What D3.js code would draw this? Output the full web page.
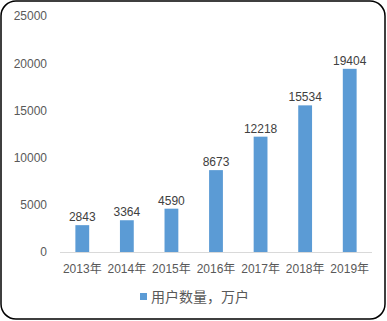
<!DOCTYPE html>
<html><head><meta charset="utf-8">
<script src="https://cdn.jsdelivr.net/npm/d3@7"></script>
<style>body{margin:0;background:#fff}svg{display:block}text{font-family:"Liberation Sans","Noto Sans CJK SC",sans-serif}</style>
</head><body>
<script>
const categories = ["2013年","2014年","2015年","2016年","2017年","2018年","2019年"];
const values = [2843,3364,4590,8673,12218,15534,19404];
const yTicks = [0,5000,10000,15000,20000,25000];
const seriesName = "用户数量，万户";

const W=387,H=321;
const svg=d3.select("body").append("svg").attr("width",W).attr("height",H);
svg.append("rect").attr("x",1).attr("y",1).attr("width",W-3).attr("height",H-3)
  .attr("rx",15).attr("ry",15).attr("fill","#fff").attr("stroke","#000").attr("stroke-width",1.5);

const m={l:60,r:372,t:16,b:252};
const x=d3.scaleBand().domain(categories).range([m.l,m.r]).paddingInner(0.69).paddingOuter(0.345);
const y=d3.scaleLinear().domain([0,25000]).range([m.b,m.t]);

const ya=svg.append("g").attr("transform",`translate(${m.l},0)`)
  .call(d3.axisLeft(y).tickValues(yTicks).tickSize(0).tickPadding(13).tickFormat(d3.format("d")));
ya.select(".domain").remove();
ya.selectAll("text").attr("fill","#595959").attr("font-size",12);

svg.selectAll("rect.bar").data(values).join("rect").attr("class","bar")
  .attr("x",(d,i)=>x(categories[i])).attr("width",x.bandwidth())
  .attr("y",d=>y(d)).attr("height",d=>y(0)-y(d)).attr("fill","#5B9BD5");

svg.append("line").attr("x1",m.l).attr("x2",m.r).attr("y1",m.b+0.5).attr("y2",m.b+0.5)
  .attr("stroke","#D9D9D9").attr("stroke-width",1);

svg.selectAll("text.lab").data(values).join("text").attr("class","lab")
  .attr("x",(d,i)=>x(categories[i])+x.bandwidth()/2).attr("y",d=>y(d)-4)
  .attr("text-anchor","middle").attr("font-size",12).attr("fill","#404040").text(d=>d);

const xa=svg.append("g").attr("transform",`translate(0,${m.b})`)
  .call(d3.axisBottom(x).tickSize(0).tickPadding(12));
xa.select(".domain").remove();
xa.selectAll("text").attr("fill","#595959").attr("font-size",12);

const lg=svg.append("g");
lg.append("rect").attr("x",140).attr("y",293).attr("width",7).attr("height",7).attr("fill","#5B9BD5");
lg.append("text").attr("x",151).attr("y",302).attr("font-size",14).attr("fill","#595959").text(seriesName);
</script>
</body></html>
